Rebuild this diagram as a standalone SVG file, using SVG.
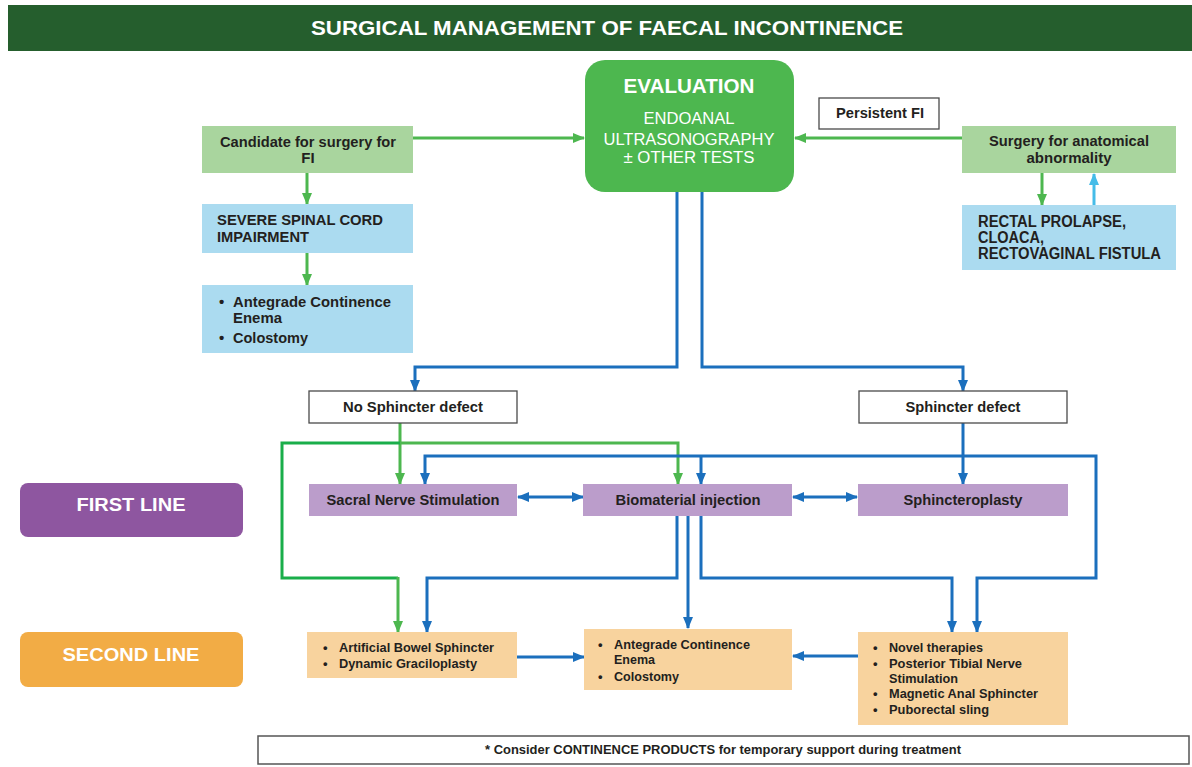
<svg xmlns="http://www.w3.org/2000/svg" width="1192" height="767" viewBox="0 0 1192 767">
<defs>
<style>
.t{font-family:"Liberation Sans",Arial,sans-serif;font-weight:bold;fill:#231F20}
.w{fill:#ffffff}
.r{font-weight:normal}
.bl{fill:none;stroke:#1B6FBD;stroke-width:3}
.gr{fill:none;stroke:#4DB74F;stroke-width:3}
.dg{fill:none;stroke:#1AAE4A;stroke-width:3}
.lb{fill:none;stroke:#45BCE8;stroke-width:3}
.box{stroke:none}
.wb{fill:#ffffff;stroke:#4A4A4A;stroke-width:1.3}
</style>
<marker id="mb" viewBox="0 0 12 12" refX="11" refY="6" markerWidth="12" markerHeight="12" markerUnits="userSpaceOnUse" orient="auto-start-reverse"><path d="M0,1 L12,6 L0,11 Z" fill="#1B6FBD"/></marker>
<marker id="mg" viewBox="0 0 12 12" refX="11" refY="6" markerWidth="12" markerHeight="12" markerUnits="userSpaceOnUse" orient="auto-start-reverse"><path d="M0,1 L12,6 L0,11 Z" fill="#4DB74F"/></marker>
<marker id="ml" viewBox="0 0 12 12" refX="11" refY="6" markerWidth="12" markerHeight="12" markerUnits="userSpaceOnUse" orient="auto-start-reverse"><path d="M0,1 L12,6 L0,11 Z" fill="#45BCE8"/></marker>
</defs>
<rect width="1192" height="767" fill="#ffffff"/>

<g id="header">
<rect x="8" y="5" width="1184" height="46" fill="#255E2D"/>
<text class="t w" x="607" y="35" font-size="21" text-anchor="middle" textLength="592" lengthAdjust="spacingAndGlyphs">SURGICAL MANAGEMENT OF FAECAL INCONTINENCE</text>
</g>

<g id="connectors">
<!-- green top -->
<path class="gr" d="M413,138 H584" marker-end="url(#mg)"/>
<path class="gr" d="M963,138 H795" marker-end="url(#mg)"/>
<path class="gr" d="M307,173 V204" marker-end="url(#mg)"/>
<path class="gr" d="M307,253 V285" marker-end="url(#mg)"/>
<path class="gr" d="M1042,173 V205" marker-end="url(#mg)"/>
<path class="lb" d="M1094,205 V174" marker-end="url(#ml)"/>
<!-- blue from evaluation -->
<path class="bl" d="M677,192 V367 H415 V391" marker-end="url(#mb)"/>
<path class="bl" d="M702,192 V367 H963 V391" marker-end="url(#mb)"/>
<path class="bl" d="M963,423 V484" marker-end="url(#mb)"/>
<!-- green from no sphincter defect -->
<path class="gr" d="M400,423 V484" marker-end="url(#mg)"/>
<path class="gr" d="M400,443 H678 V484" marker-end="url(#mg)"/>
<path class="dg" d="M400,443 H282 V578 H398"/>
<path class="gr" d="M398,577 V632" marker-end="url(#mg)"/>
<!-- blue loop -->
<path class="bl" d="M425,484 V456 H1096 V578 H977 V632" marker-start="url(#mb)" marker-end="url(#mb)"/>
<path class="bl" d="M701,456 V484" marker-end="url(#mb)"/>
<!-- first line double arrows -->
<path class="bl" d="M518,497 H583" marker-start="url(#mb)" marker-end="url(#mb)"/>
<path class="bl" d="M793,497 H857" marker-start="url(#mb)" marker-end="url(#mb)"/>
<!-- from biomaterial -->
<path class="bl" d="M677,516 V578 H427 V632" marker-end="url(#mb)"/>
<path class="bl" d="M688,516 V628" marker-end="url(#mb)"/>
<path class="bl" d="M701,516 V578 H952 V632" marker-end="url(#mb)"/>
<!-- second line -->
<path class="bl" d="M517,657 H584" marker-end="url(#mb)"/>
<path class="bl" d="M858,656 H793" stroke-width="4.5" marker-end="url(#mb)"/>
</g>

<g id="evaluation">
<rect x="585" y="60" width="209" height="132" rx="20" fill="#4DB74F"/>
<text class="t w" x="689" y="93" font-size="20" text-anchor="middle" textLength="131" lengthAdjust="spacingAndGlyphs">EVALUATION</text>
<text class="t w r" x="689" y="124" font-size="16" text-anchor="middle" textLength="91" lengthAdjust="spacingAndGlyphs">ENDOANAL</text>
<text class="t w r" x="689" y="145" font-size="16" text-anchor="middle" textLength="171" lengthAdjust="spacingAndGlyphs">ULTRASONOGRAPHY</text>
<text class="t w r" x="689" y="163" font-size="16" text-anchor="middle" textLength="131" lengthAdjust="spacingAndGlyphs">± OTHER TESTS</text>
</g>

<g id="candidate">
<rect x="202" y="126" width="211" height="47" fill="#A9D59E"/>
<text class="t" x="308" y="147" font-size="15" text-anchor="middle" textLength="176" lengthAdjust="spacingAndGlyphs">Candidate for surgery for</text>
<text class="t" x="308" y="163" font-size="15" text-anchor="middle">FI</text>
</g>

<g id="severe">
<rect x="202" y="204" width="211" height="49" fill="#ABDBF0"/>
<text class="t" x="217" y="225" font-size="15" textLength="166" lengthAdjust="spacingAndGlyphs">SEVERE SPINAL CORD</text>
<text class="t" x="217" y="242" font-size="15" textLength="92" lengthAdjust="spacingAndGlyphs">IMPAIRMENT</text>
</g>

<g id="ace-left">
<rect x="202" y="285" width="211" height="68" fill="#ABDBF0"/>
<text class="t" x="219" y="307" font-size="15">•</text>
<text class="t" x="233" y="307" font-size="15" textLength="158" lengthAdjust="spacingAndGlyphs">Antegrade Continence</text>
<text class="t" x="233" y="323" font-size="15" textLength="49" lengthAdjust="spacingAndGlyphs">Enema</text>
<text class="t" x="219" y="343" font-size="15">•</text>
<text class="t" x="233" y="343" font-size="15" textLength="75" lengthAdjust="spacingAndGlyphs">Colostomy</text>
</g>

<g id="persistent">
<rect class="wb" x="819" y="98" width="120" height="31"/>
<text class="t" x="880" y="118" font-size="15" text-anchor="middle" textLength="88" lengthAdjust="spacingAndGlyphs">Persistent FI</text>
</g>

<g id="surgery-anatomical">
<rect x="962" y="126" width="214" height="47" fill="#A9D59E"/>
<text class="t" x="1069" y="146" font-size="15" text-anchor="middle" textLength="160" lengthAdjust="spacingAndGlyphs">Surgery for anatomical</text>
<text class="t" x="1069" y="163" font-size="15" text-anchor="middle" textLength="85" lengthAdjust="spacingAndGlyphs">abnormality</text>
</g>

<g id="rectal">
<rect x="962" y="205" width="214" height="65" fill="#ABDBF0"/>
<text class="t" x="978" y="227" font-size="16" textLength="148" lengthAdjust="spacingAndGlyphs">RECTAL PROLAPSE,</text>
<text class="t" x="978" y="243" font-size="16" textLength="66" lengthAdjust="spacingAndGlyphs">CLOACA,</text>
<text class="t" x="978" y="259" font-size="16" textLength="183" lengthAdjust="spacingAndGlyphs">RECTOVAGINAL FISTULA</text>
</g>

<g id="no-sphincter">
<rect class="wb" x="309" y="391" width="208" height="32"/>
<text class="t" x="413" y="412" font-size="15" text-anchor="middle" textLength="140" lengthAdjust="spacingAndGlyphs">No Sphincter defect</text>
</g>

<g id="sphincter">
<rect class="wb" x="859" y="391" width="208" height="32"/>
<text class="t" x="963" y="412" font-size="15" text-anchor="middle" textLength="115" lengthAdjust="spacingAndGlyphs">Sphincter defect</text>
</g>

<g id="first-line">
<rect x="20" y="483" width="223" height="54" rx="8" fill="#8E56A0"/>
<text class="t w" x="131" y="511" font-size="19" text-anchor="middle" textLength="109" lengthAdjust="spacingAndGlyphs">FIRST LINE</text>
</g>

<g id="second-line">
<rect x="20" y="632" width="223" height="55" rx="8" fill="#F2AC45"/>
<text class="t w" x="131" y="661" font-size="19" text-anchor="middle" textLength="137" lengthAdjust="spacingAndGlyphs">SECOND LINE</text>
</g>

<g id="sns">
<rect x="309" y="484" width="208" height="32" fill="#BB9DCB"/>
<text class="t" x="413" y="505" font-size="15" text-anchor="middle" textLength="173" lengthAdjust="spacingAndGlyphs">Sacral Nerve Stimulation</text>
</g>

<g id="biomaterial">
<rect x="583" y="484" width="209" height="32" fill="#BB9DCB"/>
<text class="t" x="688" y="505" font-size="15" text-anchor="middle" textLength="145" lengthAdjust="spacingAndGlyphs">Biomaterial injection</text>
</g>

<g id="sphincteroplasty">
<rect x="858" y="484" width="210" height="32" fill="#BB9DCB"/>
<text class="t" x="963" y="505" font-size="15" text-anchor="middle" textLength="119" lengthAdjust="spacingAndGlyphs">Sphincteroplasty</text>
</g>

<g id="abs">
<rect x="307" y="632" width="210" height="46" fill="#F8D39E"/>
<text class="t" x="323" y="652" font-size="13">•</text>
<text class="t" x="339" y="652" font-size="13" textLength="155" lengthAdjust="spacingAndGlyphs">Artificial Bowel Sphincter</text>
<text class="t" x="323" y="668" font-size="13">•</text>
<text class="t" x="339" y="668" font-size="13" textLength="138" lengthAdjust="spacingAndGlyphs">Dynamic Graciloplasty</text>
</g>

<g id="ace-right">
<rect x="584" y="629" width="208" height="61" fill="#F8D39E"/>
<text class="t" x="598" y="649" font-size="13">•</text>
<text class="t" x="614" y="649" font-size="13" textLength="136" lengthAdjust="spacingAndGlyphs">Antegrade Continence</text>
<text class="t" x="614" y="664" font-size="13" textLength="41" lengthAdjust="spacingAndGlyphs">Enema</text>
<text class="t" x="598" y="681" font-size="13">•</text>
<text class="t" x="614" y="681" font-size="13" textLength="65" lengthAdjust="spacingAndGlyphs">Colostomy</text>
</g>

<g id="novel">
<rect x="858" y="632" width="210" height="93" fill="#F8D39E"/>
<text class="t" x="873" y="652" font-size="13">•</text>
<text class="t" x="889" y="652" font-size="13" textLength="94" lengthAdjust="spacingAndGlyphs">Novel therapies</text>
<text class="t" x="873" y="668" font-size="13">•</text>
<text class="t" x="889" y="668" font-size="13" textLength="133" lengthAdjust="spacingAndGlyphs">Posterior Tibial Nerve</text>
<text class="t" x="889" y="683" font-size="13" textLength="69" lengthAdjust="spacingAndGlyphs">Stimulation</text>
<text class="t" x="873" y="698" font-size="13">•</text>
<text class="t" x="889" y="698" font-size="13" textLength="149" lengthAdjust="spacingAndGlyphs">Magnetic Anal Sphincter</text>
<text class="t" x="873" y="714" font-size="13">•</text>
<text class="t" x="889" y="714" font-size="13" textLength="100" lengthAdjust="spacingAndGlyphs">Puborectal sling</text>
</g>

<g id="footer">
<rect x="258" y="736" width="931" height="28" fill="#ffffff" stroke="#555555" stroke-width="1.5"/>
<text class="t" x="723" y="754" font-size="12.5" text-anchor="middle" textLength="476" lengthAdjust="spacingAndGlyphs">* Consider CONTINENCE PRODUCTS for temporary support during treatment</text>
</g>
</svg>
